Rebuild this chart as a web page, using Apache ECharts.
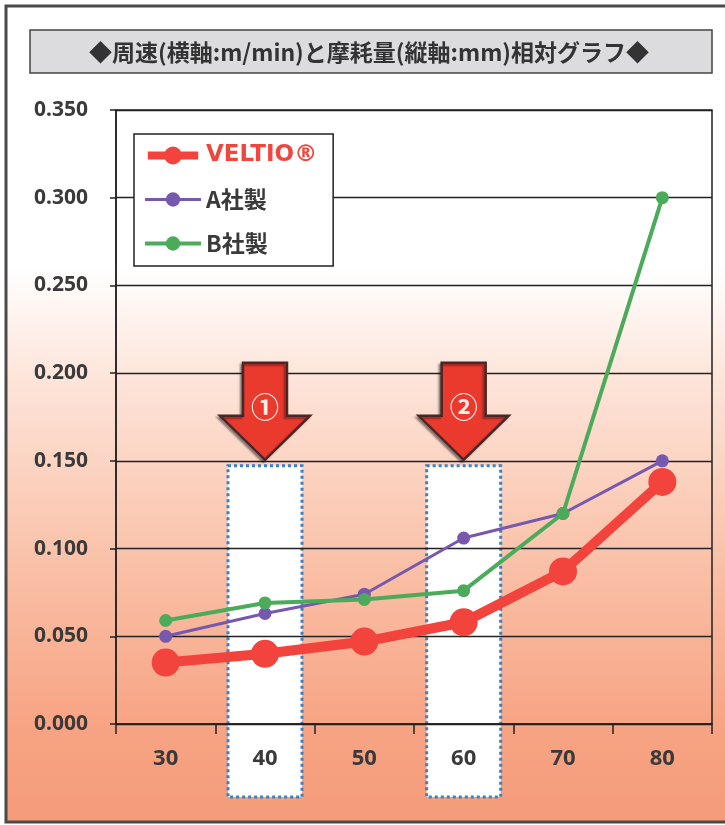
<!DOCTYPE html>
<html>
<head>
<meta charset="utf-8">
<script src="https://cdn.jsdelivr.net/npm/echarts@6/dist/echarts.min.js"></script>
<style>html,body{margin:0;padding:0;background:#fff}#c{width:725px;height:825px}</style>
</head>
<body>
<div id="c"></div>
<script>
const speeds = ['30', '40', '50', '60', '70', '80'];
const veltio = [0.035, 0.040, 0.047, 0.058, 0.087, 0.138];
const makerA = [0.050, 0.063, 0.074, 0.106, 0.120, 0.150];
const makerB = [0.059, 0.069, 0.071, 0.076, 0.120, 0.300];
const seriesNames = ['VELTIO®', 'A社製', 'B社製'];
const highlighted = [{ cat: '40', label: '①' }, { cat: '60', label: '②' }];
const titleText = '◆周速(横軸:m/min)と摩耗量(縦軸:mm)相対グラフ◆';

const chart = echarts.init(document.getElementById('c'), null, { renderer: 'canvas' });
const labelFont = { fontFamily: 'Noto Sans', fontWeight: 'bold', color: '#3a3a3a' };

chart.setOption({
  animation: false,
  backgroundColor: '#fff',
  grid: { left: 116, right: 13, top: 110, bottom: 101, show: true, borderColor: '#222', borderWidth: 1.5, backgroundColor: 'transparent' },
  legend: {
    orient: 'vertical', left: 134, top: 134,
    backgroundColor: '#fff', borderColor: '#222', borderWidth: 1.5,
    padding: [10, 16, 11, 9], itemWidth: 56, itemHeight: 18, itemGap: 21,
    lineStyle: { width: 'inherit' },
    textStyle: { fontFamily: 'Noto Sans CJK JP', fontWeight: 'bold', fontSize: 23, color: '#3a3a3a' },
    data: [
      { name: seriesNames[0],
        icon: 'path://M0,5.5 L56,5.5 L56,14.5 L0,14.5 Z M38,10 A10,10 0 1 1 18,10 A10,10 0 1 1 38,10 Z',
        itemStyle: { color: '#f2443c' },
        textStyle: { color: '#f0463e', fontSize: 23, fontFamily: 'DejaVu Sans', fontWeight: 'bold' } },
      { name: seriesNames[1], lineStyle: { width: 3 } },
      { name: seriesNames[2], lineStyle: { width: 4 } }
    ]
  },
  xAxis: {
    type: 'category', data: speeds, boundaryGap: true,
    axisLine: { lineStyle: { color: '#222', width: 1.5 } },
    axisTick: { show: true, length: 10, lineStyle: { color: '#222', width: 1.5 } },
    axisLabel: Object.assign({ margin: 24, fontSize: 22 }, labelFont),
    splitLine: { show: false }
  },
  yAxis: {
    type: 'value', min: 0, max: 0.35, interval: 0.05,
    axisLine: { show: true, lineStyle: { color: '#222', width: 1.5 } },
    axisTick: { show: true, length: 6, lineStyle: { color: '#222', width: 1.5 } },
    axisLabel: Object.assign({ margin: 28, fontSize: 21, formatter: v => v.toFixed(3) }, labelFont),
    splitLine: { show: true, lineStyle: { color: '#222', width: 1.3 } }
  },
  series: [
    { name: seriesNames[1], type: 'line', data: makerA, z: 3, symbol: 'circle', symbolSize: 13,
      itemStyle: { color: '#7659ae' }, lineStyle: { color: '#7659ae', width: 3 } },
    { name: seriesNames[2], type: 'line', data: makerB, z: 4, symbol: 'circle', symbolSize: 13,
      itemStyle: { color: '#4bab5b' }, lineStyle: { color: '#4bab5b', width: 4 } },
    { name: seriesNames[0], type: 'line', data: veltio, z: 5, symbol: 'circle', symbolSize: 28,
      itemStyle: { color: '#f2443c' }, lineStyle: { color: '#f2443c', width: 10 } }
  ]
});

function buildGraphics() {
  const els = [];
  els.push({ type: 'rect', z: -10, silent: true,
    shape: { x: 6, y: 6, width: 725, height: 816 },
    style: { fill: new echarts.graphic.LinearGradient(0, 0, 0, 1, [
      { offset: 0, color: '#ffffff' }, { offset: 0.32, color: '#ffffff' },
      { offset: 0.46, color: '#fde4d9' }, { offset: 0.7, color: '#f9bea4' },
      { offset: 0.88, color: '#f7a484' }, { offset: 1, color: '#f59b79' }]),
      stroke: '#4a4a4a', lineWidth: 3 } });
  els.push({ type: 'rect', z: 5, silent: true,
    shape: { x: 30, y: 30, width: 682, height: 43 },
    style: { fill: '#dcdcdf', stroke: '#444', lineWidth: 1.5 } });
  els.push({ type: 'text', z: 6, silent: true, x: 369, y: 52,
    style: { text: titleText, fill: '#333', font: 'bold 23px "Noto Sans CJK JP"', align: 'center', verticalAlign: 'middle' } });

  const axisY = chart.convertToPixel({ yAxisIndex: 0 }, 0);
  const y150 = chart.convertToPixel({ yAxisIndex: 0 }, 0.15);
  highlighted.forEach(h => {
    const cx = chart.convertToPixel({ xAxisIndex: 0 }, h.cat);
    els.push({ type: 'rect', z: -1, silent: true,
      shape: { x: cx - 37, y: y150 + 5, width: 74, height: axisY + 73 - (y150 + 5) },
      style: { fill: '#ffffff', stroke: '#3b7fc4', lineWidth: 3, lineDash: [3, 3] } });
    const t = y150 - 1;
    els.push({ type: 'polygon', z: 1, silent: true,
      shape: { points: [[cx - 22, t - 97], [cx + 22, t - 97], [cx + 22, t - 44], [cx + 45, t - 44], [cx, t], [cx - 45, t - 44], [cx - 22, t - 44]] },
      style: { fill: '#ea3a2e', stroke: '#4a2626', lineWidth: 2.5, shadowColor: 'rgba(0,0,0,0.35)', shadowOffsetX: -2, shadowOffsetY: 2, shadowBlur: 2 } });
    els.push({ type: 'text', z: 2, silent: true, x: cx, y: t - 52,
      style: { text: h.label, fill: '#ffece6', font: 'bold 28px "Noto Sans CJK JP"', align: 'center', verticalAlign: 'middle' } });
  });
  chart.setOption({ graphic: els });
}
buildGraphics();
</script>
</body>
</html>
